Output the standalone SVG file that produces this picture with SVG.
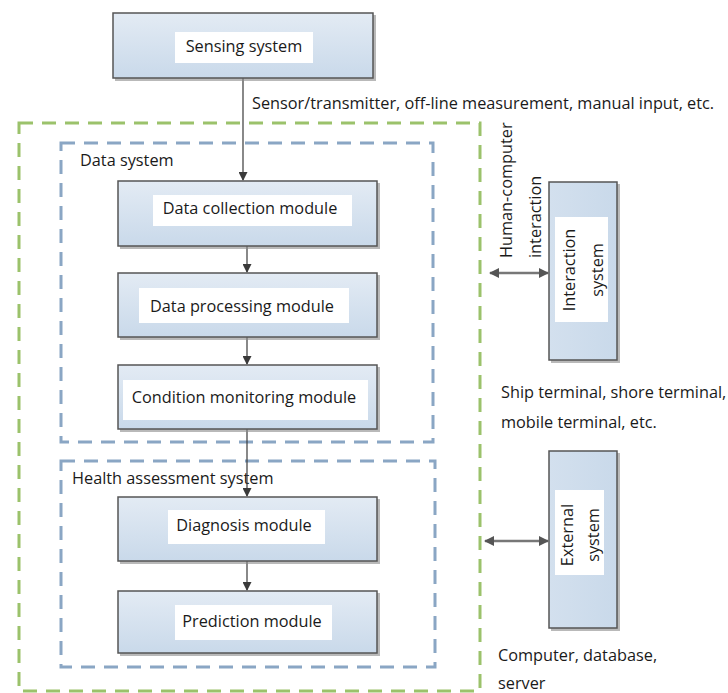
<svg xmlns="http://www.w3.org/2000/svg" width="728" height="693" viewBox="0 0 728 693">
<defs>
<linearGradient id="g" x1="0" y1="0" x2="0" y2="1">
<stop offset="0" stop-color="#e3ebf4"/>
<stop offset="1" stop-color="#c9d9ea"/>
</linearGradient>
<linearGradient id="gv" x1="0" y1="0" x2="1" y2="0">
<stop offset="0" stop-color="#d3e0ee"/>
<stop offset="1" stop-color="#c9d9ea"/>
</linearGradient>
<marker id="ah" markerWidth="9" markerHeight="9" refX="8" refY="4.5" orient="auto" markerUnits="userSpaceOnUse">
<path d="M0,0 L9,4.5 L0,9 z" fill="#3a3a3a"/>
</marker>
<marker id="ah2" markerWidth="10" markerHeight="10" refX="9" refY="5" orient="auto-start-reverse" markerUnits="userSpaceOnUse">
<path d="M0,0 L10,5 L0,10 z" fill="#555"/>
</marker>
</defs>
<style>
.box{fill:url(#g);stroke:#555;stroke-width:1.5}
.vbox{fill:url(#gv);stroke:#555;stroke-width:1.5}
.sh{fill:#8a8a8a;opacity:0.6}
.lab{fill:#fff}
text{font-family:"Open Sans","DejaVu Sans",sans-serif;font-size:16.3px;fill:#1a1a1a}
.c{text-anchor:middle}
.green{fill:none;stroke:#9bc26b;stroke-width:3;stroke-dasharray:14 9}
.blue{fill:none;stroke:#8aa6c4;stroke-width:3;stroke-dasharray:14 9}
.ln{stroke:#3a3a3a;stroke-width:1.2;fill:none}
.dl{stroke:#777;stroke-width:2.5;fill:none}
</style>

<g id="containers">
<rect id="outer" class="green" x="19" y="123" width="461" height="568"/>
<rect id="data-system" class="blue" x="61" y="143" width="372" height="299"/>
<text x="80" y="166">Data system</text>
<rect id="health-system" class="blue" x="61" y="461" width="374" height="206"/>
<text x="72" y="484">Health assessment system</text>
</g>

<g id="connectors">
<line class="ln" x1="243" y1="78" x2="243" y2="180" marker-end="url(#ah)"/>
<line class="ln" x1="247" y1="246" x2="247" y2="272" marker-end="url(#ah)"/>
<line class="ln" x1="247" y1="337" x2="247" y2="364" marker-end="url(#ah)"/>
<line class="ln" x1="247" y1="429" x2="247" y2="496" marker-end="url(#ah)"/>
<line class="ln" x1="247" y1="561" x2="247" y2="590" marker-end="url(#ah)"/>
<line class="dl" x1="490" y1="273" x2="548" y2="273" marker-start="url(#ah2)" marker-end="url(#ah2)"/>
<line class="dl" x1="485" y1="541" x2="548" y2="541" marker-start="url(#ah2)" marker-end="url(#ah2)"/>
<text x="252" y="109">Sensor/transmitter, off-line measurement, manual input, etc.</text>
<text transform="translate(512,258) rotate(-90)">Human-computer</text>
<text transform="translate(541,258) rotate(-90)">interaction</text>
<text x="501" y="398">Ship terminal, shore terminal,</text>
<text x="501" y="428">mobile terminal, etc.</text>
<text x="498" y="661">Computer, database,</text>
<text x="498" y="689">server</text>
</g>

<g id="sensing">
<rect class="sh" x="115" y="15" width="261" height="66"/>
<rect class="box" x="113" y="13" width="260" height="65"/>
<rect class="lab" x="175" y="32" width="138" height="31"/>
<text class="c" x="244" y="52">Sensing system</text>
</g>

<g id="data-collection">
<rect class="sh" x="120" y="183" width="260" height="66"/>
<rect class="box" x="118" y="181" width="259" height="65"/>
<rect class="lab" x="153" y="195" width="199" height="31"/>
<text class="c" x="250" y="214">Data collection module</text>
</g>

<g id="data-processing">
<rect class="sh" x="120" y="275" width="260" height="65"/>
<rect class="box" x="118" y="273" width="259" height="64"/>
<rect class="lab" x="139" y="288" width="210" height="35"/>
<text class="c" x="242" y="312">Data processing module</text>
</g>

<g id="condition-monitoring">
<rect class="sh" x="120" y="367" width="260" height="65"/>
<rect class="box" x="118" y="365" width="259" height="64"/>
<rect class="lab" x="123" y="380" width="245" height="40"/>
<text class="c" x="244" y="403">Condition monitoring module</text>
</g>

<g id="diagnosis">
<rect class="sh" x="120" y="499" width="260" height="65"/>
<rect class="box" x="118" y="497" width="259" height="64"/>
<rect class="lab" x="168" y="510" width="157" height="34"/>
<text class="c" x="244" y="531">Diagnosis module</text>
</g>

<g id="prediction">
<rect class="sh" x="120" y="593" width="260" height="63"/>
<rect class="box" x="118" y="591" width="259" height="62"/>
<rect class="lab" x="175" y="605" width="157" height="35"/>
<text class="c" x="252" y="627">Prediction module</text>
</g>

<g id="interaction-system">
<rect class="sh" x="551" y="184" width="69" height="179"/>
<rect class="vbox" x="549" y="182" width="68" height="178"/>
<rect class="lab" x="555" y="217" width="53" height="105"/>
<text class="c" transform="translate(575,270) rotate(-90)">Interaction</text>
<text class="c" transform="translate(603,270) rotate(-90)">system</text>
</g>

<g id="external-system">
<rect class="sh" x="551" y="453" width="69" height="178"/>
<rect class="vbox" x="549" y="451" width="68" height="177"/>
<rect class="lab" x="555" y="490" width="49" height="85"/>
<text class="c" transform="translate(573,535) rotate(-90)">External</text>
<text class="c" transform="translate(599,535) rotate(-90)">system</text>
</g>
</svg>
